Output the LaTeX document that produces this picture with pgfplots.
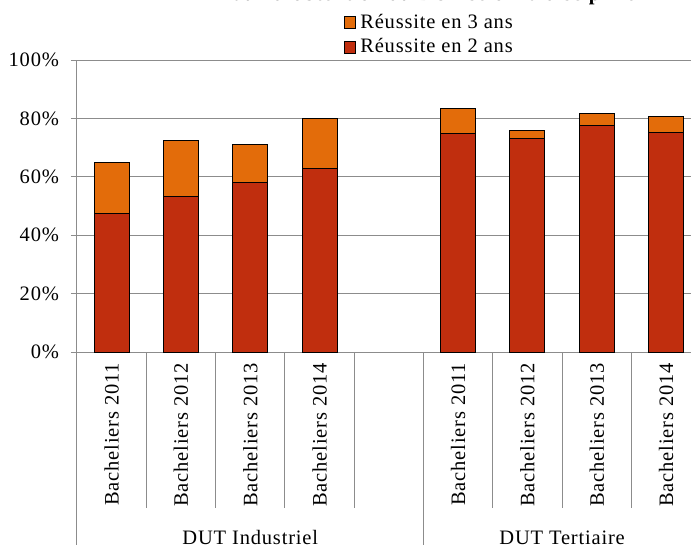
\documentclass[border=0pt]{standalone}
\usepackage{fontspec}
\setmainfont{Liberation Serif}[LetterSpace=4]
\usepackage{pgfplots}
\pgfplotsset{compat=1.18}
\definecolor{deuxans}{RGB}{192,46,14}
\definecolor{troisans}{RGB}{227,108,10}
\definecolor{grille}{RGB}{140,140,140}

\begin{document}
\fontsize{20.5}{24}\selectfont
\begin{tikzpicture}
  \begin{axis}[
      at={(77pt,-352pt)}, anchor=south west,
      width=614pt, height=292pt, scale only axis,
      clip=false,
      ybar stacked, bar width=35pt,
      xmin=-0.5, xmax=8.36, ymin=0, ymax=100,
      axis x line*=bottom, axis y line*=left,
      axis line style={grille, line width=1pt, -},
      ymajorgrids, grid style={grille, line width=1pt},
      ytick={0,20,40,60,80,100},
      yticklabels={0\%,20\%,40\%,60\%,80\%,100\%},
      /pgf/number format/assume math mode=true,
      yticklabel style={xshift=-5pt},
      tick align=outside, major tick length=6pt,
      ytick style={grille, line width=1pt},
      xtick={0,1,2,3,5,6,7,8},
      xticklabels={Bacheliers 2011,Bacheliers 2012,Bacheliers 2013,Bacheliers 2014,
        Bacheliers 2011,Bacheliers 2012,Bacheliers 2013,Bacheliers 2014},
      xtick style={draw=none},
      xticklabel style={rotate=90, anchor=east, inner sep=0pt, xshift=-5pt},
      legend style={at={(axis description cs:0.435,1.158)}, anchor=north west,
        draw=none, fill=none, inner sep=0pt, row sep=7pt,
        nodes={inner sep=0pt},
        /tikz/every odd column/.append style={column sep=4pt}},
      legend cell align=left,
      reverse legend,
    ]
    \addplot[fill=deuxans, draw=black, line width=1pt,
      legend image code/.code={\draw[fill=deuxans,draw=black,line width=1pt] (0pt,-6pt) rectangle (11pt,6pt);}]
      coordinates {
        (0,47.6) (1,53.3) (2,57.9) (3,62.9)
        (5,74.9) (6,73.1) (7,77.7) (8,75.3)
      };
    \addplot[fill=troisans, draw=black, line width=1pt,
      legend image code/.code={\draw[fill=troisans,draw=black,line width=1pt] (0pt,-6pt) rectangle (11pt,6pt);}]
      coordinates {
        (0,17.2) (1,19.3) (2,13.1) (3,17.0)
        (5,8.5) (6,2.9) (7,3.9) (8,5.3)
      };
    \legend{Réussite en 2 ans, Réussite en 3 ans}

    % separateurs des categories
    \draw[grille, line width=1pt] (axis cs:-0.5,0) -- ([yshift=-200pt]axis cs:-0.5,0);
    \draw[grille, line width=1pt] (axis cs:4.5,0) -- ([yshift=-200pt]axis cs:4.5,0);
    \draw[grille, line width=1pt] (axis cs:0.5,0) -- ([yshift=-156pt]axis cs:0.5,0);
    \draw[grille, line width=1pt] (axis cs:1.5,0) -- ([yshift=-156pt]axis cs:1.5,0);
    \draw[grille, line width=1pt] (axis cs:2.5,0) -- ([yshift=-156pt]axis cs:2.5,0);
    \draw[grille, line width=1pt] (axis cs:3.5,0) -- ([yshift=-156pt]axis cs:3.5,0);
    \draw[grille, line width=1pt] (axis cs:5.5,0) -- ([yshift=-156pt]axis cs:5.5,0);
    \draw[grille, line width=1pt] (axis cs:6.5,0) -- ([yshift=-156pt]axis cs:6.5,0);
    \draw[grille, line width=1pt] (axis cs:7.5,0) -- ([yshift=-156pt]axis cs:7.5,0);

    \node[anchor=base] at ([yshift=-192pt]axis cs:2,0) {DUT Industriel};
    \node[anchor=base] at ([yshift=-192pt]axis cs:6.5,0) {DUT Tertiaire};
  \end{axis}
  \node[anchor=base, font=\bfseries] at (428pt,-0.8pt) {Taux d'obtention du DUT selon la discipline};
  \pgfresetboundingbox
  \useasboundingbox (0pt,0pt) rectangle (691pt,-544pt);
\end{tikzpicture}
\end{document}
